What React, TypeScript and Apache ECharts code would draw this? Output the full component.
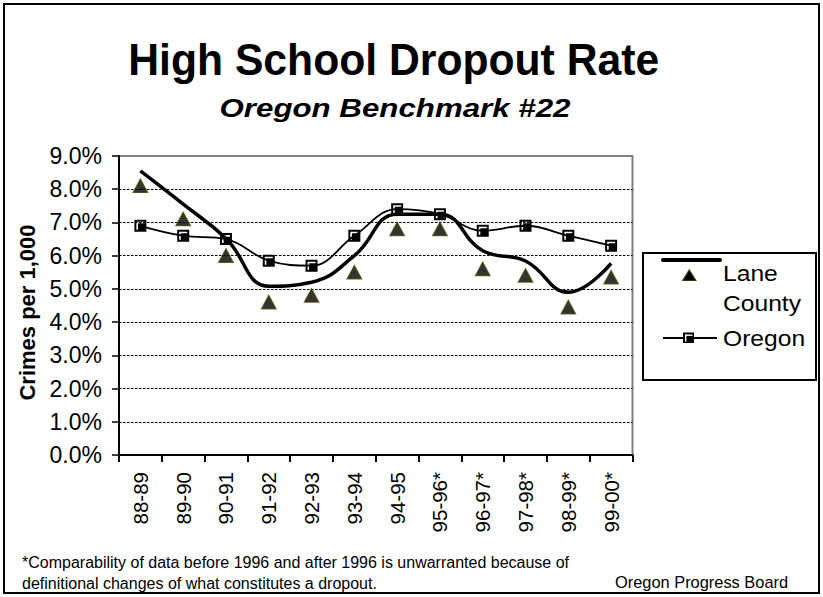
import React, { useEffect, useRef } from "react";
import * as echarts from "echarts";

const categories = ["88-89", "89-90", "90-91", "91-92", "92-93", "93-94", "94-95", "95-96*", "96-97*", "97-98*", "98-99*", "99-00*"];
const laneCounty = [8.1, 7.1, 6.0, 4.6, 4.8, 5.5, 6.8, 6.8, 5.6, 5.4, 4.45, 5.35];
const laneTrend = [8.55, 7.55, 6.52, 5.08, 5.2, 6.0, 7.25, 7.25, 6.15, 5.84, 4.9, 5.77];
const oregon = [6.9, 6.6, 6.5, 5.85, 5.7, 6.6, 7.4, 7.25, 6.75, 6.9, 6.6, 6.3];
const yMin = 0;
const yMax = 9;
const yStep = 1;

const titleText = "High School Dropout Rate";
const subtitleText = "Oregon Benchmark #22";
const yAxisTitle = "Crimes per 1,000";
const footnote1 = "*Comparability of data before 1996 and after 1996 is unwarranted because of";
const footnote2 = "definitional changes of what constitutes a dropout.";
const sourceText = "Oregon Progress Board";
const legendLane = ["Lane", "County"];
const legendOregon = "Oregon";

const FONT = "'Liberation Sans', Arial, Helvetica, sans-serif";

// square marker with white inner L-shaped gap
const squareSymbol =
  "path://M0 0H12V12H0Z M2 2V10H10V2Z M3.6 3.6H10V10H3.6Z";

export default function App() {
  const ref = useRef<HTMLDivElement>(null);

  useEffect(() => {
    if (!ref.current) return;
    const chart = echarts.init(ref.current, null, { renderer: "svg" });

    const option: any = {
      animation: false,
      backgroundColor: "#ffffff",
      textStyle: { fontFamily: FONT },
      grid: {
        left: 119,
        right: 190.5,
        top: 156,
        bottom: 142,
        show: true,
        borderColor: "#808080",
        borderWidth: 2,
        backgroundColor: "#ffffff",
      },
      xAxis: {
        type: "category",
        data: categories,
        boundaryGap: true,
        axisLine: { show: true, lineStyle: { color: "#000", width: 2 } },
        axisTick: { show: true, inside: false, length: 7, lineStyle: { color: "#000", width: 2 } },
        axisLabel: {
          rotate: 90,
          margin: 17,
          fontSize: 20.5,
          color: "#000",
          fontFamily: FONT,
          interval: 0,
        },
        splitLine: { show: false },
      },
      yAxis: {
        type: "value",
        min: yMin,
        max: yMax,
        interval: yStep,
        name: yAxisTitle,
        nameLocation: "middle",
        nameRotate: 90,
        nameGap: 81,
        nameTextStyle: {
          fontSize: 22,
          fontWeight: "bold",
          color: "#000",
          fontFamily: FONT,
          padding: [0, 14, 0, 0],
        },
        axisLine: { show: true, lineStyle: { color: "#000", width: 2 } },
        axisTick: { show: true, inside: false, length: 7, lineStyle: { color: "#000", width: 1.5 } },
        axisLabel: {
          margin: 17,
          fontSize: 23,
          color: "#000",
          fontFamily: FONT,
          formatter: (v: number) => v.toFixed(1) + "%",
        },
        splitLine: {
          show: true,
          showMinLine: false,
          showMaxLine: false,
          lineStyle: { color: "#000", width: 1, type: [2.5, 1.5] },
        },
      },
      series: [
        {
          name: "Lane County",
          type: "scatter",
          data: laneCounty,
          symbol: "triangle",
          symbolSize: [14, 13],
          itemStyle: { color: "#000000", borderColor: "#3d3d00", borderWidth: 1.5 },
          z: 3,
        },
        {
          name: "Oregon",
          type: "line",
          data: oregon,
          smooth: 0.4,
          symbol: squareSymbol,
          symbolSize: 12,
          showAllSymbol: true,
          lineStyle: { color: "#000", width: 1.8 },
          itemStyle: { color: "#000" },
          z: 4,
        },
        {
          name: "Lane County trend",
          type: "line",
          data: laneTrend,
          smooth: 0.45,
          symbol: "none",
          lineStyle: { color: "#000", width: 3.5 },
          z: 5,
        },
      ],
      graphic: [
        {
          type: "rect",
          shape: { x: 4, y: 4, width: 815, height: 589 },
          style: { fill: "none", stroke: "#000", lineWidth: 2 },
          z: 100,
        },
        {
          type: "text",
          x: 393.7,
          y: 59.5,
          scaleX: 0.97,
          style: {
            text: titleText,
            fontSize: 44,
            fontWeight: "bold",
            fontFamily: FONT,
            fill: "#000",
            textAlign: "center",
            textVerticalAlign: "middle",
          },
        },
        {
          type: "text",
          x: 395,
          y: 108,
          scaleX: 1.18,
          style: {
            text: subtitleText,
            fontSize: 26.5,
            fontWeight: "bold",
            fontStyle: "italic",
            fontFamily: FONT,
            fill: "#000",
            textAlign: "center",
            textVerticalAlign: "middle",
          },
        },
        // legend
        {
          type: "rect",
          shape: { x: 643, y: 253, width: 173, height: 127 },
          style: { fill: "#fff", stroke: "#000", lineWidth: 2 },
        },
        {
          type: "line",
          shape: { x1: 663, y1: 260, x2: 720, y2: 260 },
          style: { stroke: "#000", lineWidth: 4, lineCap: "round" },
        },
        {
          type: "polygon",
          shape: { points: [[689.3, 270], [695.8, 280.5], [682.8, 280.5]] },
          style: { fill: "#000", stroke: "#3d3d00", lineWidth: 1.2 },
        },
        {
          type: "line",
          shape: { x1: 663, y1: 338, x2: 717, y2: 338 },
          style: { stroke: "#000", lineWidth: 2 },
        },
        {
          type: "rect",
          shape: { x: 683, y: 332.5, width: 11, height: 10.5 },
          style: { fill: "#000" },
        },
        {
          type: "rect",
          shape: { x: 685, y: 334.5, width: 7.5, height: 1.4 },
          style: { fill: "#fff" },
        },
        {
          type: "rect",
          shape: { x: 685, y: 334.5, width: 1.4, height: 7 },
          style: { fill: "#fff" },
        },
        {
          type: "text",
          x: 723,
          y: 273,
          scaleX: 1.12,
          style: { text: legendLane[0], fontSize: 22, fontFamily: FONT, fill: "#000", textAlign: "left", textVerticalAlign: "middle" },
        },
        {
          type: "text",
          x: 723,
          y: 303,
          scaleX: 1.12,
          style: { text: legendLane[1], fontSize: 22, fontFamily: FONT, fill: "#000", textAlign: "left", textVerticalAlign: "middle" },
        },
        {
          type: "text",
          x: 723,
          y: 338,
          scaleX: 1.12,
          style: { text: legendOregon, fontSize: 22, fontFamily: FONT, fill: "#000", textAlign: "left", textVerticalAlign: "middle" },
        },
        // footnotes
        {
          type: "text",
          x: 22,
          y: 562,
          style: { text: footnote1, fontSize: 16, fontFamily: FONT, fill: "#000", textAlign: "left", textVerticalAlign: "middle" },
        },
        {
          type: "text",
          x: 22,
          y: 583,
          style: { text: footnote2, fontSize: 16, fontFamily: FONT, fill: "#000", textAlign: "left", textVerticalAlign: "middle" },
        },
        {
          type: "text",
          x: 615,
          y: 582,
          style: { text: sourceText, fontSize: 16.4, fontFamily: FONT, fill: "#000", textAlign: "left", textVerticalAlign: "middle" },
        },
      ],
    };

    chart.setOption(option);
    return () => {
      chart.dispose();
    };
  }, []);

  return (
    <div
      ref={ref}
      style={{ position: "fixed", left: 0, top: 0, width: 823, height: 597, background: "#fff" }}
    />
  );
}
